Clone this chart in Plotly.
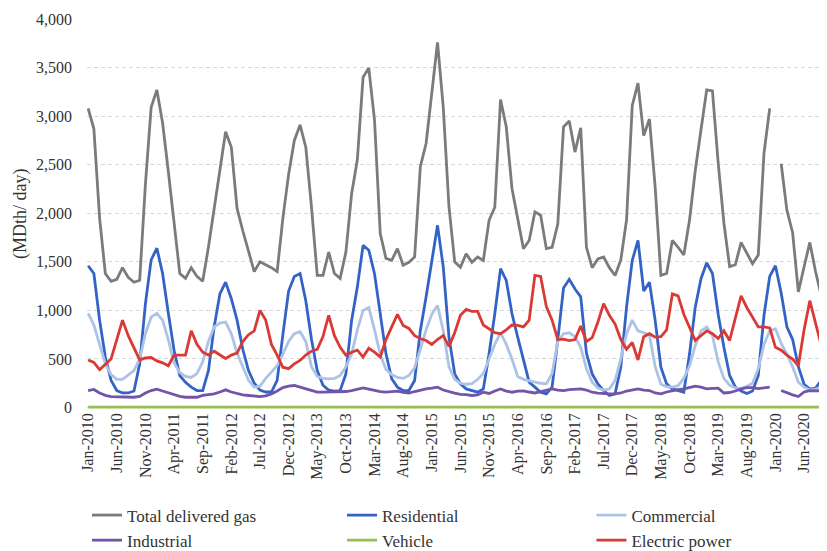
import pandas as pd
import plotly.graph_objects as go

months = list(pd.date_range("2010-01-01", periods=130, freq="MS").strftime("%b-%Y"))

tick_labels = ["Jan-2010", "Jun-2010", "Nov-2010", "Apr-2011", "Sep-2011", "Feb-2012",
               "Jul-2012", "Dec-2012", "May-2013", "Oct-2013", "Mar-2014", "Aug-2014",
               "Jan-2015", "Jun-2015", "Nov-2015", "Apr-2016", "Sep-2016", "Feb-2017",
               "Jul-2017", "Dec-2017", "May-2018", "Oct-2018", "Mar-2019", "Aug-2019",
               "Jan-2020", "Jun-2020"]

total = [3080, 2870, 1950, 1380, 1300, 1320, 1440, 1340, 1290, 1310, 2300, 3090,
         3270, 2930, 2430, 1900, 1380, 1330, 1440, 1350, 1300, 1650, 2050, 2420,
         2840, 2680, 2050, 1820, 1600, 1400, 1500, 1470, 1440, 1400, 1950, 2400,
         2750, 2910, 2680, 2060, 1360, 1360, 1600, 1380, 1330, 1600, 2200, 2550,
         3400, 3495, 2960, 1790, 1535, 1515, 1636, 1464, 1495, 1550, 2480, 2718,
         3250, 3760, 3093, 2065, 1500, 1443, 1584, 1495, 1550, 1515, 1928, 2062,
         3170, 2890, 2255, 1950, 1636, 1720, 2014, 1980, 1636, 1650, 1890, 2890,
         2950, 2630, 2880, 1650, 1440, 1530, 1550, 1440, 1360, 1520, 1930, 3110,
         3340, 2800, 2970, 2270, 1360, 1380, 1720, 1650, 1570, 1930, 2440, 2860,
         3270, 3260, 2520, 1900, 1450, 1470, 1700, 1590, 1480, 1570, 2620, 3080,
         None, 2510, 2030, 1800, 1190, 1450, 1700, 1400, 1150, 1300]

residential = [1460, 1380, 900, 520, 280, 175, 150, 150, 170, 450, 1070, 1520,
               1640, 1380, 970, 590, 330, 260, 210, 175, 175, 380, 830, 1170,
               1290, 1120, 900, 600, 380, 250, 180, 160, 160, 280, 750, 1200,
               1350, 1380, 1100, 700, 380, 230, 180, 170, 175, 347, 897, 1240,
               1670, 1620, 1378, 966, 553, 296, 210, 175, 175, 278, 794, 1137,
               1515, 1876, 1447, 725, 347, 244, 192, 175, 158, 192, 553, 966,
               1430, 1309, 966, 725, 485, 261, 210, 158, 141, 210, 700, 1230,
               1320, 1220, 1140, 560, 347, 244, 175, 124, 141, 416, 1034, 1515,
               1720, 1200, 1290, 897, 416, 244, 192, 175, 158, 553, 1034, 1326,
               1490, 1380, 960, 620, 330, 210, 170, 145, 170, 330, 950, 1350,
               1460, 1180, 830, 700, 420, 240, 190, 200, 280, 330]

commercial = [969, 850, 650, 450, 340, 290, 290, 340, 380, 500, 760, 930,
              970, 900, 700, 460, 360, 320, 310, 350, 470, 680, 830, 870,
              880, 760, 560, 420, 280, 210, 220, 300, 360, 430, 550, 680,
              760, 780, 680, 420, 320, 300, 295, 300, 330, 420, 550, 800,
              1000, 1030, 800, 550, 390, 340, 310, 300, 330, 410, 600, 800,
              960, 1050, 790, 420, 290, 250, 240, 245, 290, 350, 500, 650,
              770, 650, 500, 320, 290, 275, 260, 250, 244, 350, 680, 760,
              770, 730, 620, 400, 260, 200, 180, 190, 280, 500, 760, 900,
              790, 770, 750, 420, 240, 215, 210, 225, 300, 430, 640, 790,
              830, 740, 470, 300, 230, 200, 195, 220, 250, 400, 650, 790,
              810, 660, 550, 420, 260, 210, 180, 190, 210, 230]

industrial = [175, 186, 150, 125, 113, 113, 113, 108, 106, 115, 150, 175,
              190, 170, 150, 130, 115, 106, 106, 106, 125, 135, 141, 160,
              182, 160, 141, 130, 124, 115, 113, 120, 140, 170, 205, 220,
              227, 210, 192, 170, 158, 158, 158, 158, 158, 165, 175, 190,
              203, 190, 175, 165, 158, 163, 168, 155, 148, 165, 182, 192,
              200, 210, 180, 160, 148, 135, 134, 124, 130, 158, 145, 170,
              192, 170, 158, 170, 172, 160, 150, 165, 178, 192, 180, 175,
              185, 192, 192, 180, 158, 148, 141, 141, 141, 150, 170, 180,
              192, 180, 175, 150, 141, 160, 175, 185, 192, 205, 220, 210,
              192, 198, 200, 150, 155, 170, 192, 205, 205, 195, 205, 210,
              None, 175, 150, 130, 113, 160, 175, 175, 172, 168]

vehicle = [4, 4, 4, 4, 4, 4, 4, 4, 4, 4, 4, 4,
           4, 4, 4, 4, 4, 4, 4, 4, 4, 4, 4, 4,
           4, 4, 4, 4, 4, 4, 4, 4, 4, 4, 4, 4,
           4, 4, 4, 4, 4, 4, 4, 4, 4, 4, 4, 4,
           4, 4, 4, 4, 4, 4, 4, 4, 4, 4, 4, 4,
           4, 4, 4, 4, 4, 4, 4, 4, 4, 4, 4, 4,
           4, 4, 4, 4, 4, 4, 4, 4, 4, 4, 4, 4,
           4, 4, 4, 4, 4, 4, 4, 4, 4, 4, 4, 4,
           4, 4, 4, 4, 4, 4, 4, 4, 4, 4, 4, 4,
           4, 4, 4, 4, 4, 4, 4, 4, 4, 4, 4, 4,
           4, 4, 4, 4, 4, 4, 4, 4, 4, 4]

electric = [490, 465, 390, 440, 500, 700, 900, 740, 620, 490, 510, 515,
            480, 460, 430, 540, 540, 540, 790, 650, 570, 540, 580, 540,
            505, 540, 560, 680, 750, 790, 1000, 900, 650, 540, 415, 400,
            450, 485, 540, 580, 600, 730, 950, 740, 620, 540, 570, 590,
            519, 610, 570, 520, 700, 830, 960, 845, 815, 740, 710, 690,
            650, 700, 742, 630, 770, 950, 1010, 990, 990, 850, 811, 770,
            760, 800, 850, 845, 830, 900, 1360, 1350, 1040, 900, 700, 705,
            690, 700, 840, 680, 720, 880, 1070, 950, 860, 700, 600, 670,
            490, 730, 760, 725, 730, 800, 1170, 1150, 960, 830, 690, 740,
            790, 760, 710, 790, 690, 920, 1150, 1030, 930, 830, 830, 820,
            620, 590, 540, 500, 430, 800, 1100, 870, 640, 640]

# (name, values, colour, legend column)
series = [
    ("Total delivered gas", total, "#7b7b7b", "legend"),
    ("Residential", residential, "#3463c6", "legend2"),
    ("Commercial", commercial, "#adc3e6", "legend3"),
    ("Industrial", industrial, "#7254a8", "legend"),
    ("Vehicle", vehicle, "#93c04e", "legend2"),
    ("Electric power", electric, "#da3a36", "legend3"),
]

fig = go.Figure()
for name, vals, color, leg in series:
    fig.add_trace(go.Scatter(x=months, y=vals, name=name, mode="lines", legend=leg,
                             line=dict(color=color, width=2.8), connectgaps=False))

serif = "Liberation Serif, Times New Roman, serif"
legfont = dict(family=serif, size=17, color="#333333")


def leg(xpos):
    return dict(orientation="v", xref="paper", yref="container",
                x=xpos, xanchor="left", y=0.0985, yanchor="top",
                font=legfont, itemwidth=30, bgcolor="rgba(0,0,0,0)",
                tracegroupgap=0)


# the page body adds an 8px offset, so the figure is sized to fill the window
fig.update_layout(
    width=819, height=543,
    margin=dict(l=79, r=0, t=11, b=142),
    paper_bgcolor="white", plot_bgcolor="white",
    font=dict(family=serif, size=16, color="#333333"),
    showlegend=True,
    legend=leg(0.0),
    legend2=leg(0.3446),
    legend3=leg(0.6817),
    xaxis=dict(type="category", range=[-0.2, 129], tickmode="array",
               tickvals=tick_labels, ticktext=tick_labels, tickangle=-90,
               showgrid=False, zeroline=False, showline=False, ticks="",
               automargin=False,
               tickfont=dict(family=serif, size=16, color="#333333")),
    yaxis=dict(range=[-15, 4000], dtick=500, tick0=0, tickformat=",",
               showgrid=True, gridcolor="#d9d9d9", gridwidth=1, griddash="4px,3px",
               zeroline=False, showline=False, ticks="", ticklabelstandoff=14,
               automargin=False,
               tickfont=dict(family=serif, size=16, color="#333333")),
    annotations=[dict(text="(MDth/ day)", xref="paper", yref="paper",
                      x=-0.0905, y=0.5, xanchor="center", yanchor="middle",
                      textangle=-90, showarrow=False,
                      font=dict(family=serif, size=18, color="#333333"))],
)

fig.write_html("out.html")
